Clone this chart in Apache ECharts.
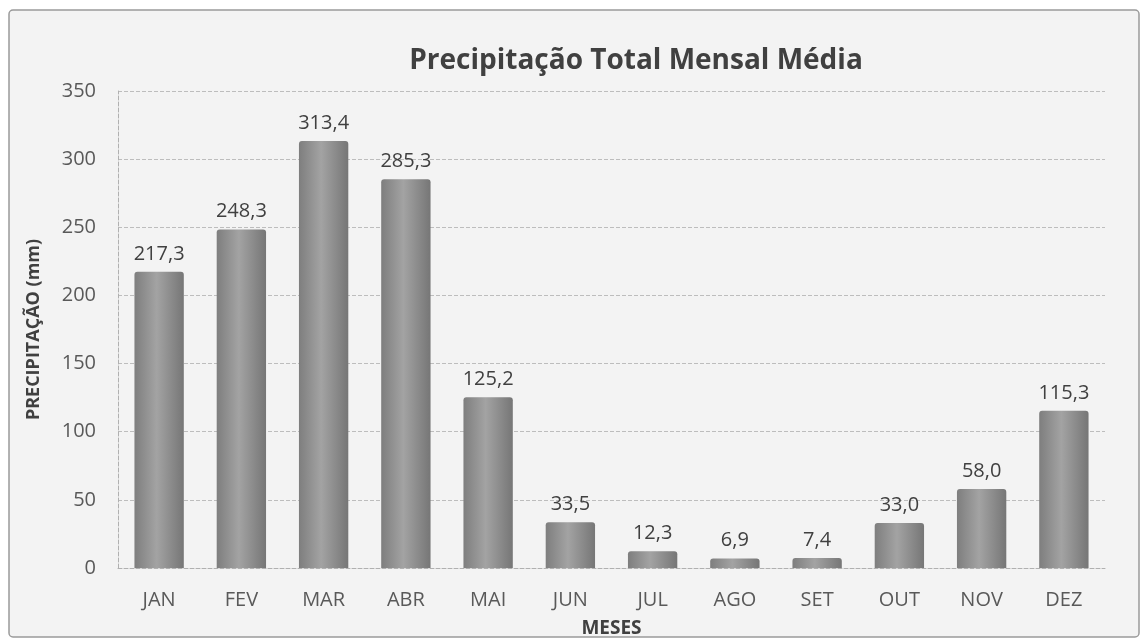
<!DOCTYPE html>
<html>
<head>
<meta charset="utf-8">
<script src="https://cdn.jsdelivr.net/npm/echarts@6/dist/echarts.min.js"></script>
<style>
  html, body { margin: 0; padding: 0; background: #fff; }
  #chart { width: 1148px; height: 640px; }
</style>
</head>
<body>
<div id="chart"></div>
<script>
// dados
const meses = ["JAN", "FEV", "MAR", "ABR", "MAI", "JUN", "JUL", "AGO", "SET", "OUT", "NOV", "DEZ"];
const precipitacao = [217.3, 248.3, 313.4, 285.3, 125.2, 33.5, 12.3, 6.9, 7.4, 33.0, 58.0, 115.3];

const chart = echarts.init(document.getElementById("chart"));
const fonte = "'Open Sans', 'DejaVu Sans', sans-serif";

const option = {
  backgroundColor: "#fff",
  graphic: [
    {
      type: "rect",
      z: -10,
      shape: { x: 9, y: 10, width: 1130, height: 627, r: 4 },
      style: { fill: "#f3f3f3", stroke: "#9a9a9a", lineWidth: 1.5 }
    }
  ],
  title: {
    text: "Precipitação Total Mensal Média",
    left: 631,
    top: 42,
    textAlign: "center",
    textStyle: { fontFamily: fonte, fontSize: 28, fontWeight: "bold", color: "#404040" }
  },
  grid: { left: 118, right: 43, top: 91, bottom: 72, outerBoundsMode: "none" },
  xAxis: {
    type: "category",
    data: meses,
    name: "MESES",
    nameLocation: "middle",
    nameGap: 51,
    nameTextStyle: { fontFamily: fonte, fontSize: 19, fontWeight: "bold", color: "#404040" },
    axisLine: { show: true, lineStyle: { color: "#b0b0b0", type: "dashed" } },
    axisTick: { show: false },
    axisLabel: { fontFamily: fonte, fontSize: 20, color: "#595959", margin: 22 },
    splitLine: { show: false }
  },
  yAxis: {
    type: "value",
    min: 0,
    max: 350,
    interval: 50,
    name: "PRECIPITAÇÃO (mm)",
    nameLocation: "middle",
    nameGap: 75,
    nameTextStyle: { fontFamily: fonte, fontSize: 18, fontWeight: "bold", color: "#404040" },
    axisLine: { show: true, lineStyle: { color: "#b0b0b0", type: "dashed" } },
    axisTick: { show: false },
    axisLabel: { fontFamily: fonte, fontSize: 20, color: "#595959", margin: 22 },
    splitLine: { lineStyle: { color: "#bdbdbd", type: "dashed" } }
  },
  series: [
    {
      type: "bar",
      data: precipitacao,
      barWidth: "60%",
      itemStyle: {
        borderRadius: [3, 3, 0, 0],
        color: new echarts.graphic.LinearGradient(0, 0, 1, 0, [
          { offset: 0, color: "#7e7e7e" },
          { offset: 0.45, color: "#a3a3a3" },
          { offset: 1, color: "#767676" }
        ])
      },
      label: {
        show: true,
        position: "top",
        distance: 8,
        fontFamily: fonte,
        fontSize: 20,
        color: "#404040",
        formatter: p => p.value.toFixed(1).replace(".", ",")
      }
    }
  ]
};

chart.setOption(option);
</script>
</body>
</html>
